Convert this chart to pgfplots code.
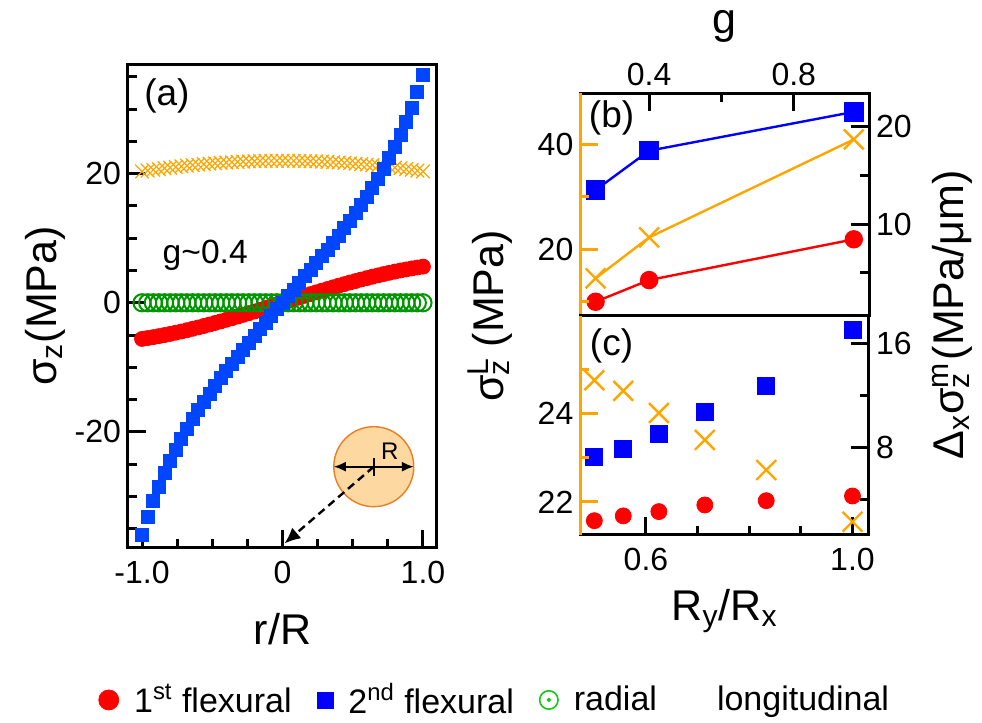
\documentclass[border=0pt]{standalone}
\usepackage{fontspec}
\setmainfont{Liberation Sans}
\usepackage{pgfplots}
\usepackage{pgfplotstable}
\pgfplotsset{compat=1.18}
\usetikzlibrary{arrows.meta}

\definecolor{cOrange}{RGB}{255,165,0}
\definecolor{cBlueA}{RGB}{0,70,255}
\definecolor{cGreen}{RGB}{0,150,0}
\definecolor{cGreenL}{RGB}{20,200,20}
\definecolor{cFill}{RGB}{253,216,160}
\definecolor{cEdge}{RGB}{235,125,35}

% panel (a): stress across the section, r/R
\pgfplotstableread{
x     blue    red     rad   lon
-1.00 -35.90  -5.600  0.00  20.35
-0.96 -33.22  -5.466  0.00  20.48
-0.92 -30.77  -5.322  0.00  20.60
-0.88 -28.51  -5.166  0.00  20.72
-0.84 -26.43  -5.001  0.00  20.84
-0.80 -24.51  -4.826  0.00  20.94
-0.76 -22.73  -4.641  0.00  21.05
-0.72 -21.06  -4.448  0.00  21.15
-0.68 -19.51  -4.247  0.00  21.24
-0.64 -18.04  -4.037  0.00  21.32
-0.60 -16.65  -3.821  0.00  21.41
-0.56 -15.33  -3.597  0.00  21.48
-0.52 -14.06  -3.367  0.00  21.55
-0.48 -12.85  -3.131  0.00  21.62
-0.44 -11.67  -2.890  0.00  21.68
-0.40 -10.53  -2.643  0.00  21.74
-0.36  -9.41  -2.392  0.00  21.79
-0.32  -8.32  -2.137  0.00  21.83
-0.28  -7.25  -1.878  0.00  21.87
-0.24  -6.19  -1.615  0.00  21.91
-0.20  -5.14  -1.350  0.00  21.93
-0.16  -4.10  -1.083  0.00  21.96
-0.12  -3.07  -0.814  0.00  21.98
-0.08  -2.04  -0.543  0.00  21.99
-0.04  -1.02  -0.272  0.00  22.00
 0.00   0.00   0.000  0.00  22.00
 0.04   1.02   0.272  0.00  22.00
 0.08   2.04   0.543  0.00  21.99
 0.12   3.06   0.814  0.00  21.98
 0.16   4.09   1.083  0.00  21.96
 0.20   5.12   1.350  0.00  21.93
 0.24   6.15   1.615  0.00  21.91
 0.28   7.20   1.878  0.00  21.87
 0.32   8.26   2.137  0.00  21.83
 0.36   9.34   2.392  0.00  21.79
 0.40  10.43   2.643  0.00  21.74
 0.44  11.55   2.890  0.00  21.68
 0.48  12.71   3.131  0.00  21.62
 0.52  13.90   3.367  0.00  21.55
 0.56  15.14   3.597  0.00  21.48
 0.60  16.43   3.821  0.00  21.41
 0.64  17.79   4.037  0.00  21.32
 0.68  19.23   4.247  0.00  21.24
 0.72  20.75   4.448  0.00  21.15
 0.76  22.38   4.641  0.00  21.05
 0.80  24.13   4.826  0.00  20.94
 0.84  26.01   5.001  0.00  20.84
 0.88  28.05   5.166  0.00  20.72
 0.92  30.26   5.322  0.00  20.60
 0.96  32.67   5.466  0.00  20.48
 1.00  35.30   5.600  0.00  20.35
}\sectiondata

\pgfplotsset{
  base/.style={
    scale only axis, anchor=south west, clip=false,
    tick align=inside, major tick length=9pt, minor tick length=4.5pt,
    tick style={line width=1.5pt, black},
    axis line style={line width=1.5pt},
    tick label style={font=\fontsize{16}{19}\selectfont},
    label style={font=\fontsize{21.5}{25}\selectfont},
    /pgf/number format/assume math mode=true,
  },
  noarrows/.style={axis line style={-}, x axis line style={-}, y axis line style={-}},
}

\begin{document}
\begin{tikzpicture}
\useasboundingbox (0,0) rectangle (491pt,361.5pt);

% ---------- (a)
\begin{axis}[base, at={(64pt,87.5pt)}, width=154.5pt, height=242pt,
  xmin=-1.1, xmax=1.1, ymin=-38, ymax=37,
  tick pos=left,
  xtick={-1,0,1}, xticklabels={-1.0,0,1.0},
  minor xtick={-0.75,-0.5,-0.25,0.25,0.5,0.75},
  xticklabel style={yshift=-3pt},
  ytick={-20,0,20}, yticklabels={-20,0,20},
  minor ytick={-35,-30,-25,-15,-10,-5,5,10,15,25,30,35},
  xlabel={r/R}, xlabel style={at={(axis description cs:0.5,-0.2004)}, anchor=base},
  ylabel={σ\textsubscript{z}(MPa)}, ylabel style={at={(axis description cs:-0.233,0.5)}, anchor=base},
  legend columns=4, legend cell align=left,
  legend style={at={(axis description cs:1.19,-0.314)}, anchor=center, draw=none, fill=none,
    font=\fontsize{17}{20}\selectfont,
    /tikz/every odd column/.append style={column sep=5.5pt},
    /tikz/every even column/.append style={column sep=10.5pt}},
]
\addplot[only marks, mark=*, mark size=3.75pt, color=red, forget plot] table[x=x,y=red]{\sectiondata};
\addplot[only marks, mark=o, mark size=4.3pt, color=cGreen, mark options={line width=1pt}, forget plot] table[x=x,y=rad]{\sectiondata};
\addplot[only marks, mark=x, mark size=4.8pt, color=cOrange, mark options={line width=0.6pt}, forget plot] table[x=x,y=lon]{\sectiondata};
\addplot[only marks, mark=square*, mark size=3.25pt, color=cBlueA, forget plot] table[x=x,y=blue]{\sectiondata};

\addlegendimage{legend image code/.code={\fill[red] (0,0) circle (5pt);}}
\addlegendentry{1\textsuperscript{st} flexural}
\addlegendimage{legend image code/.code={\fill[blue] (-4pt,-4pt) rectangle (4pt,4pt);}}
\addlegendentry{2\textsuperscript{nd} flexural}
\addlegendimage{legend image code/.code={\draw[cGreenL, line width=0.8pt] (0,0) circle (4.6pt); \fill[cGreenL] (0,0) circle (0.9pt);}}
\addlegendentry{radial}
\addlegendimage{legend image code/.code={\path[draw=none, fill=none] (-5pt,-1pt) rectangle (5pt,1pt);}}
\addlegendentry{longitudinal}

\node[font=\fontsize{18.5}{22}\selectfont] at (axis description cs:0.126,0.934) {(a)};
\node[font=\fontsize{16.8}{20}\selectfont] at (axis cs:-0.55,7.4) {g\textasciitilde0.4};

% cross-section sketch
\filldraw[fill=cFill, draw=cEdge, line width=0.7pt] (axis cs:0.65,-25.4) circle[radius=20pt];
\draw[{Latex[length=6pt,width=5pt]}-{Latex[length=6pt,width=5pt]}, line width=0.9pt]
  ([xshift=-20pt]axis cs:0.65,-25.4) -- ([xshift=20pt]axis cs:0.65,-25.4);
\draw[line width=0.8pt] ([yshift=-4.5pt]axis cs:0.65,-25.4) -- ([yshift=4.5pt]axis cs:0.65,-25.4);
\node[font=\fontsize{12}{14}\selectfont] at ([xshift=8pt,yshift=7.5pt]axis cs:0.65,-25.4) {R};
\draw[dash pattern=on 4pt off 2.5pt, line width=1.2pt, -{Latex[length=8pt,width=7pt]}]
  (axis cs:0.65,-25.4) -- (axis cs:0.014,-37.3);
\end{axis}

% ---------- (b) right scale
\begin{axis}[base, at={(290.2pt,203.65pt)}, width=144.3pt, height=111.2pt,
  xmin=0.21, xmax=1.008, ymin=0.58, ymax=23.43,
  xtick pos=right, xticklabel pos=right, ytick pos=right, yticklabel pos=right,
  xtick={0.4,0.8}, xticklabels={0.4,0.8}, minor xtick={0.6},
  ytick={10,20}, yticklabels={10,20}, minor ytick={5,15},
  xlabel={g}, xlabel style={at={(axis description cs:0.5,1.268)}, anchor=base, inner sep=0pt},
]
\addplot[color=blue, line width=1.2pt, mark=square*, mark size=4.25pt] coordinates {(0.252,13.49) (0.4,17.53) (0.966,21.52)};
\addplot[color=red, line width=1.2pt, mark=*, mark size=4pt] coordinates {(0.252,2.01) (0.4,4.24) (0.966,8.43)};
\node[font=\fontsize{18.5}{22}\selectfont] at (axis description cs:0.108,0.889) {(b)};
\end{axis}
% ---------- (b) left scale
\begin{axis}[base, at={(290.2pt,203.65pt)}, width=144.3pt, height=111.2pt,
  xmin=0.21, xmax=1.008, ymin=7.3, ymax=49.7,
  axis x line=none, axis y line*=left, xtick=\empty,
  y axis line style={cOrange}, tick style={cOrange},
  ytick={20,40}, yticklabels={20,40}, minor ytick={10,30},
  noarrows,
]
\addplot[color=cOrange, line width=1.2pt, mark=x, mark size=7pt] coordinates {(0.252,14.42) (0.4,22.23) (0.966,40.9)};
\end{axis}

% ---------- (c) right scale
\begin{axis}[base, at={(290.2pt,94pt)}, width=144.3pt, height=109.65pt,
  xmin=0.473, xmax=1.032, ymin=1.25, ymax=18.12,
  xtick pos=left, ytick pos=right, yticklabel pos=right,
  xtick={0.6,1.0}, xticklabels={0.6,1.0}, minor xtick={0.7,0.8,0.9},
  xticklabel style={yshift=-3pt},
  ytick={8,16}, yticklabels={8,16}, minor ytick={4,12},
  xlabel={R\textsubscript{y}/R\textsubscript{x}}, xlabel style={at={(axis description cs:0.5,-0.388)}, anchor=base},
]
\addplot[only marks, color=blue, mark=square*, mark size=4.25pt] coordinates {(0.5,7.23) (0.556,7.85) (0.625,9.02) (0.714,10.74) (0.833,12.72) (1.0,17.02)};
\addplot[only marks, color=red, mark=*, mark size=4pt] coordinates {(0.5,2.35) (0.556,2.72) (0.625,3.05) (0.714,3.56) (0.833,3.89) (1.0,4.25)};
\node[font=\fontsize{18.5}{22}\selectfont] at (axis description cs:0.108,0.862) {(c)};
\end{axis}
% ---------- (c) left scale
\begin{axis}[base, at={(290.2pt,94pt)}, width=144.3pt, height=109.65pt,
  xmin=0.473, xmax=1.032, ymin=21.25, ymax=26.21,
  axis x line=none, axis y line*=left, xtick=\empty,
  y axis line style={cOrange}, tick style={cOrange},
  ytick={22,24}, yticklabels={22,24}, minor ytick={23,25},
  noarrows,
]
\addplot[only marks, color=cOrange, mark=x, mark size=7pt, mark options={line width=1.2pt}] coordinates {(0.5,24.75) (0.556,24.51) (0.625,24.01) (0.714,23.40) (0.833,22.72) (1.0,21.55)};
\end{axis}

% shared labels of (b) and (c)
\node[rotate=90, font=\fontsize{21.5}{25}\selectfont] at (245pt,203.5pt)
  {σ\rlap{\textsuperscript{L}}\textsubscript{z} (MPa)};
\node[rotate=90, font=\fontsize{21.5}{25}\selectfont] at (476pt,204pt)
  {Δ\textsubscript{x}σ\rlap{\textsuperscript{m}}\textsubscript{z} (MPa/μm)};
\end{tikzpicture}
\end{document}
